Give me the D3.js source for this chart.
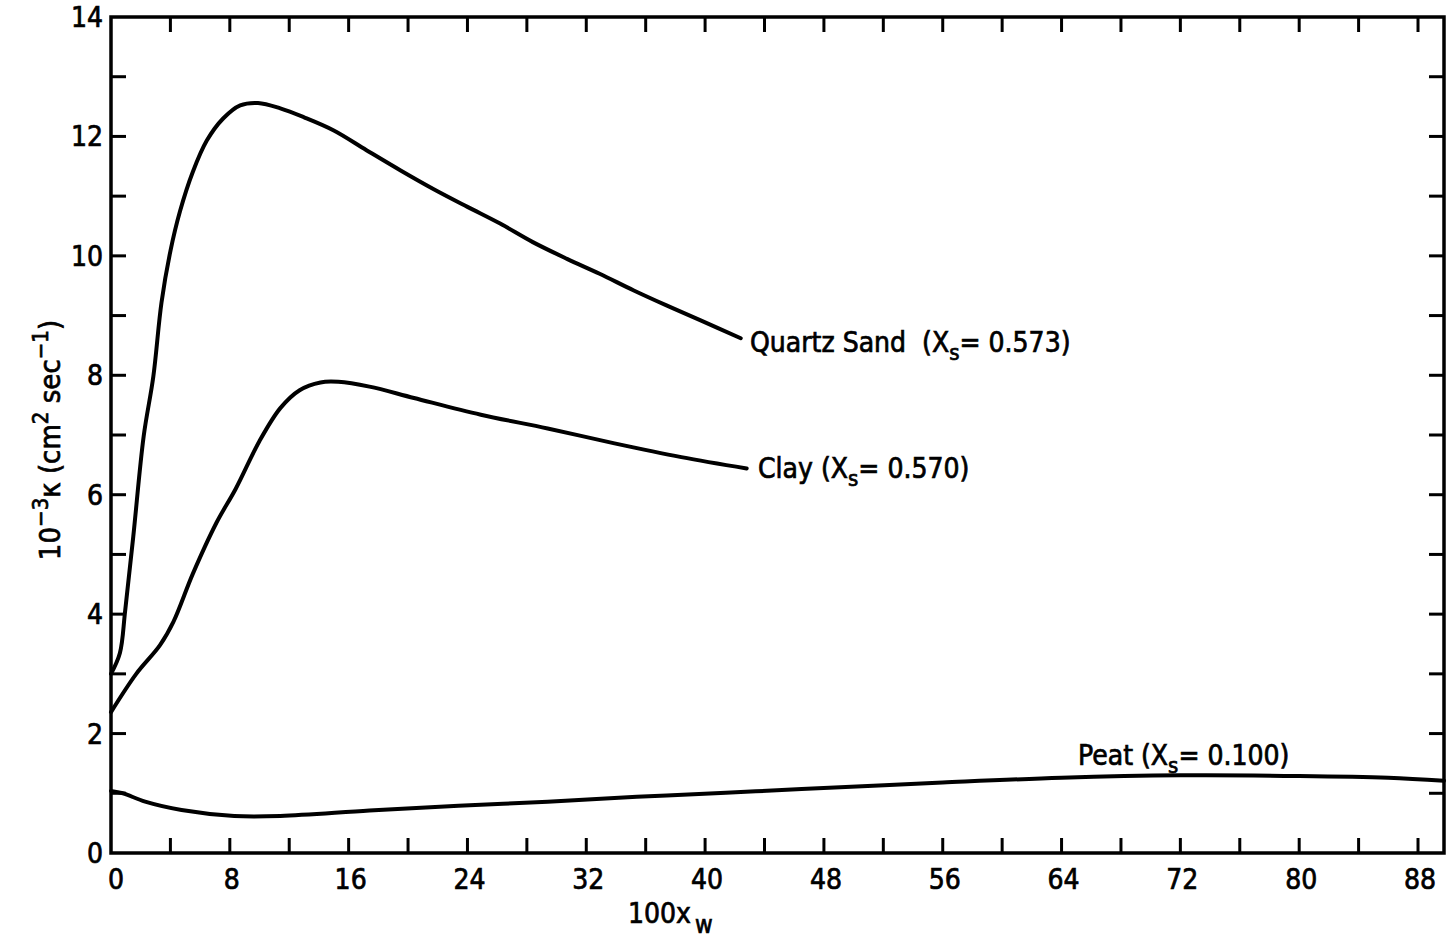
<!DOCTYPE html>
<html>
<head>
<meta charset="utf-8">
<script src="https://cdn.jsdelivr.net/npm/d3@7"></script>
<style>
    body { margin: 0; background: #fff; }
    text { font-family: "DejaVu Sans Condensed", "DejaVu Sans", sans-serif; fill: #000; stroke: #000; stroke-width: 0.7px; }
</style>
</head>
<body>
<div id="chart"></div>
<script>
// values: 100 x_w against 10^3 kappa
const quartzX = [0, 0.6, 0.95, 1.5, 2.2, 2.85, 3.4, 4.0, 4.65, 5.5, 6.45, 7.55, 8.7, 9.9, 11.4, 13, 15, 17.2, 19.5, 21.7, 24, 26.2, 28.4, 30.7, 32.9, 35.2, 37.4, 39.7, 42.4];
const quartzY = [3.0, 3.35, 4.05, 5.3, 6.98, 7.98, 9.22, 10.08, 10.75, 11.4, 11.93, 12.3, 12.52, 12.56, 12.47, 12.32, 12.1, 11.77, 11.43, 11.12, 10.82, 10.54, 10.23, 9.95, 9.7, 9.42, 9.17, 8.92, 8.62];

const clayX = [0, 1.7, 3.3, 4.2, 5.5, 7.1, 8.4, 10.0, 11.4, 12.7, 14.1, 15.3, 17.4, 20.4, 24.9, 29.4, 33.9, 38.4, 42.8];
const clayY = [2.36, 3.0, 3.48, 3.87, 4.67, 5.53, 6.1, 6.9, 7.45, 7.75, 7.88, 7.89, 7.81, 7.62, 7.34, 7.11, 6.86, 6.63, 6.44];

const peatX = [0, 0.8, 2.3, 4.75, 8.3, 11.4, 17.4, 23.4, 29.4, 35.4, 41.4, 46.5, 56, 64, 72, 80, 86, 89.75];
const peatY = [1.04, 1.0, 0.86, 0.72, 0.62, 0.62, 0.71, 0.79, 0.86, 0.94, 1.01, 1.07, 1.18, 1.26, 1.3, 1.29, 1.26, 1.21];

const xTickLabels = [0, 8, 16, 24, 32, 40, 48, 56, 64, 72, 80, 88];
const yTickLabels = [0, 2, 4, 6, 8, 10, 12, 14];

const seriesNames = ["Quartz Sand", "Clay", "Peat"];
const seriesXs = ["0.573", "0.570", "0.100"];

let width = 1453, height = 950;
let margin = { top: 17, right: 9, bottom: 97, left: 111 };

let svg = d3.select("#chart")
    .append("svg")
    .attr("width", width)
    .attr("height", height);

let x = d3.scaleLinear().domain([0, 89.75]).range([margin.left, width - margin.right]);
let y = d3.scaleLinear().domain([0, 14]).range([height - margin.bottom, margin.top]);

// frame
svg.append("rect")
    .attr("x", x(0))
    .attr("y", y(14))
    .attr("width", x(89.75) - x(0))
    .attr("height", y(0) - y(14))
    .attr("fill", "none")
    .attr("stroke", "#000")
    .attr("stroke-width", 3.5);

// inward ticks on all four sides
let tickLen = 15;
let xMinor = d3.range(4, 89, 4);
let yMinor = d3.range(1, 14, 1);

let ticks = svg.append("g").attr("stroke", "#000").attr("stroke-width", 3);

ticks.selectAll(".tb").data(xMinor).enter().append("line")
    .attr("x1", d => x(d)).attr("x2", d => x(d))
    .attr("y1", y(0)).attr("y2", y(0) - tickLen);

ticks.selectAll(".tt").data(xMinor).enter().append("line")
    .attr("x1", d => x(d)).attr("x2", d => x(d))
    .attr("y1", y(14)).attr("y2", y(14) + tickLen);

ticks.selectAll(".tl").data(yMinor).enter().append("line")
    .attr("x1", x(0)).attr("x2", x(0) + tickLen)
    .attr("y1", d => y(d)).attr("y2", d => y(d));

ticks.selectAll(".tr").data(yMinor).enter().append("line")
    .attr("x1", x(89.75)).attr("x2", x(89.75) - tickLen)
    .attr("y1", d => y(d)).attr("y2", d => y(d));

// tick labels
svg.selectAll(".xl")
    .data(xTickLabels)
    .enter()
    .append("text")
    .attr("x", d => x(d) + (d === 0 ? 5 : 2))
    .attr("y", y(0) + 36)
    .attr("text-anchor", "middle")
    .attr("font-size", 28)
    .text(d => d);

svg.selectAll(".yl")
    .data(yTickLabels)
    .enter()
    .append("text")
    .attr("x", x(0) - 8)
    .attr("y", d => y(d) + 10)
    .attr("text-anchor", "end")
    .attr("font-size", 28)
    .text(d => d);

// axis titles
let xt = svg.append("text")
    .attr("x", 628)
    .attr("y", y(0) + 70)
    .attr("font-size", 28);
xt.append("tspan").text("100x");
xt.append("tspan").attr("dy", 10).attr("dx", 4).attr("font-size", 24).text("w");

let yt = svg.append("text")
    .attr("transform", `translate(60, 440) rotate(-90)`)
    .attr("text-anchor", "middle")
    .attr("font-size", 29);
yt.append("tspan").text("10");
yt.append("tspan").attr("dy", -12).attr("font-size", 22).text("−3");
yt.append("tspan").attr("dy", 12).text("κ (cm");
yt.append("tspan").attr("dy", -12).attr("font-size", 22).text("2");
yt.append("tspan").attr("dy", 12).text(" sec");
yt.append("tspan").attr("dy", -12).attr("font-size", 22).text("−1");
yt.append("tspan").attr("dy", 12).text(")");

// curves
let line = d3.line()
    .x(d => x(d[0]))
    .y(d => y(d[1]))
    .curve(d3.curveCatmullRom.alpha(0.5));

let series = [
    d3.zip(quartzX, quartzY),
    d3.zip(clayX, clayY),
    d3.zip(peatX, peatY)
];

svg.selectAll(".curve")
    .data(series)
    .enter()
    .append("path")
    .attr("class", "curve")
    .attr("d", line)
    .attr("fill", "none")
    .attr("stroke", "#000")
    .attr("stroke-width", 4)
    .attr("stroke-linejoin", "round")
    .attr("stroke-linecap", "round");

// curve labels
let labelPos = [[750, 352], [758, 478], [1078, 765]];
let gap = ["  ", " ", " "];

seriesNames.forEach((name, i) => {
    let t = svg.append("text")
        .attr("x", labelPos[i][0])
        .attr("y", labelPos[i][1])
        .attr("font-size", 28)
        .attr("xml:space", "preserve");
    t.append("tspan").text(name + gap[i] + "(X");
    t.append("tspan").attr("dy", 8).attr("font-size", 22).text("s");
    t.append("tspan").attr("dy", -8).text("= " + seriesXs[i] + ")");
});
</script>
</body>
</html>
